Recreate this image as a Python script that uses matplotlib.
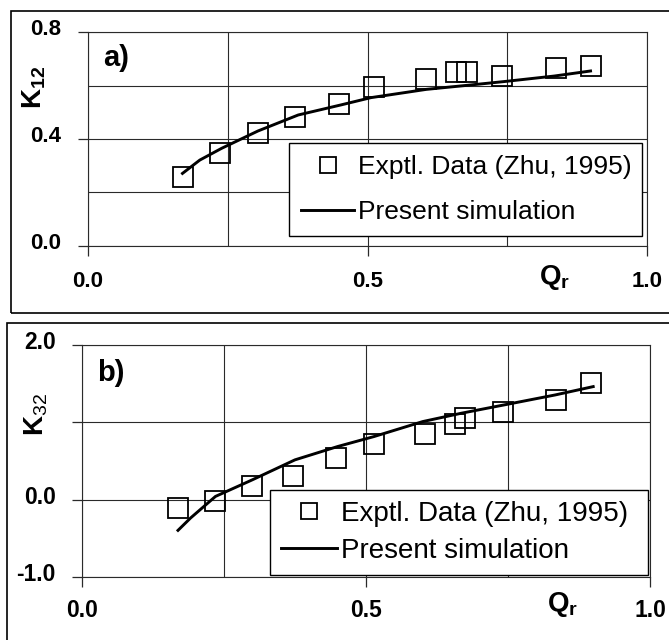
import matplotlib
matplotlib.use("Agg")
import matplotlib.pyplot as plt
import matplotlib.transforms as mtransforms
from matplotlib.patches import Rectangle
from matplotlib.ticker import MultipleLocator, FixedLocator

plt.rcParams['font.family'] = ['Liberation Sans', 'DejaVu Sans']
plt.rcParams['mathtext.fontset'] = 'custom'
plt.rcParams['mathtext.rm'] = 'Liberation Sans'
plt.rcParams['mathtext.bf'] = 'Liberation Sans:bold'
plt.rcParams['mathtext.it'] = 'Liberation Sans:italic'

# ---- data: panel a (K12) ----
exp_x_a = [0.170, 0.237, 0.304, 0.370, 0.449, 0.511, 0.604, 0.659, 0.678, 0.741, 0.837, 0.899]
exp_y_a = [0.259, 0.346, 0.421, 0.481, 0.531, 0.594, 0.625, 0.652, 0.652, 0.636, 0.665, 0.675]
sim_x_a = [0.169, 0.200, 0.239, 0.304, 0.376, 0.453, 0.506, 0.605, 0.682, 0.743, 0.834, 0.899]
sim_y_a = [0.271, 0.321, 0.365, 0.430, 0.490, 0.528, 0.555, 0.586, 0.602, 0.615, 0.636, 0.655]

# ---- data: panel b (K32) ----
exp_x_b = [0.169, 0.235, 0.300, 0.371, 0.448, 0.514, 0.604, 0.656, 0.675, 0.741, 0.835, 0.896]
exp_y_b = [-0.109, -0.014, 0.171, 0.300, 0.537, 0.717, 0.851, 0.980, 1.053, 1.139, 1.290, 1.505]
sim_x_b = [0.169, 0.191, 0.235, 0.300, 0.375, 0.450, 0.514, 0.600, 0.668, 0.743, 0.833, 0.900]
sim_y_b = [-0.397, -0.238, 0.042, 0.257, 0.515, 0.687, 0.816, 1.010, 1.118, 1.225, 1.354, 1.462]

xticks = [0.0, 0.5, 1.0]
xtick_labels = ['0.0', '0.5', '1.0']
yticks_a = [0.0, 0.4, 0.8]
ytick_labels_a = ['0.0', '0.4', '0.8']
yticks_b = [-1.0, 0.0, 1.0, 2.0]
ytick_labels_b = ['-1.0', '0.0', '', '2.0']

legend_labels = ['Exptl. Data (Zhu, 1995)', 'Present simulation']

fig = plt.figure(figsize=(6.69, 6.40), dpi=100)

# outer frames
fig.patches.append(Rectangle((11/669, 1-313/640), 1.0, 302/640, transform=fig.transFigure,
                             fill=False, edgecolor='black', linewidth=1.2, zorder=0))
fig.patches.append(Rectangle((7/669, -0.05), 1.0, 0.05 + 1-323/640, transform=fig.transFigure,
                             fill=False, edgecolor='black', linewidth=1.2, zorder=0))

ax_a = fig.add_axes([88/669, 1-245.7/640, 559/669, 213.4/640])
ax_b = fig.add_axes([82/669, 1-577/640, 568/669, 232/640])


def style(ax, xlim, ylim, yticks, yticklabels, yminor, tickfs, xpad, ypad):
    ax.set_xlim(*xlim)
    ax.set_ylim(*ylim)
    ax.xaxis.set_major_locator(FixedLocator(xticks))
    ax.set_xticklabels(xtick_labels)
    ax.xaxis.set_minor_locator(MultipleLocator(0.25))
    ax.yaxis.set_major_locator(FixedLocator(yticks))
    ax.set_yticklabels(yticklabels)
    ax.yaxis.set_minor_locator(MultipleLocator(yminor))
    ax.grid(True, which='both', color='#2a2a2a', linewidth=0.8)
    ax.set_axisbelow(True)
    for s in ax.spines.values():
        s.set_color('#2a2a2a')
        s.set_linewidth(0.8)
    ax.tick_params(which='major', direction='out', length=7, width=0.9, color='#2a2a2a')
    ax.tick_params(axis='x', which='major', pad=xpad)
    ax.tick_params(axis='y', which='major', pad=ypad)
    ax.tick_params(which='minor', length=0)
    for lab in ax.get_xticklabels() + ax.get_yticklabels():
        lab.set_fontsize(tickfs)
        lab.set_fontweight('bold')
    off = mtransforms.ScaledTranslation(0, 5/100, fig.dpi_scale_trans)
    for lab in ax.get_yticklabels():
        lab.set_transform(lab.get_transform() + off)


style(ax_a, (0, 1), (0, 0.8), yticks_a, ytick_labels_a, 0.2, 16, 11, 12)
style(ax_b, (0, 1), (-1, 2), yticks_b, ytick_labels_b, 1.0, 16.5, 9, 12)

mk = dict(marker='s', markersize=14.5, markerfacecolor='none', markeredgecolor='black',
          markeredgewidth=1.3, linestyle='none')

for ax, ex, ey, sx, sy, lbl, leg_bbox, legfs, lspace, bpad in [
        (ax_a, exp_x_a, exp_y_a, sim_x_a, sim_y_a, 'a)', (0.36, 0.045, 0.631, 0.437), 19, 0.8, 0.45),
        (ax_b, exp_x_b, exp_y_b, sim_x_b, sim_y_b, 'b)', (0.331, 0.017, 0.665, 0.349), 20, 0.4, 0.4)]:
    h1, = ax.plot(ex, ey, label=legend_labels[0], zorder=3, **mk)
    h2, = ax.plot(sx, sy, color='black', linewidth=2.1, label=legend_labels[1], zorder=4)
    ax.text(0.027, 0.88, lbl, transform=ax.transAxes, fontsize=21, fontweight='bold',
            ha='left', va='center')
    leg = ax.legend(handles=[h1, h2], loc='center left', bbox_to_anchor=leg_bbox, mode='expand',
                    fontsize=legfs, frameon=True, fancybox=False, shadow=False, framealpha=1,
                    edgecolor='black', handlelength=2.0, handletextpad=0.15, borderpad=bpad,
                    labelspacing=lspace, markerscale=0.82, borderaxespad=0)
    leg.get_frame().set_linewidth(1.0)
    leg.set_zorder(5)

ax_a.text(-0.097, 0.74, r'$\mathbf{K_{12}}$', transform=ax_a.transAxes, fontsize=20,
          rotation=90, ha='center', va='center')
ax_b.text(-0.080, 0.70, r'$\mathbf{K}_{\mathrm{32}}$', transform=ax_b.transAxes, fontsize=20,
          rotation=90, ha='center', va='center')
ax_a.text(0.835, -0.147, r'$\mathbf{Q_{r}}$', transform=ax_a.transAxes, fontsize=20,
          ha='center', va='center')
ax_b.text(0.847, -0.12, r'$\mathbf{Q_{r}}$', transform=ax_b.transAxes, fontsize=20,
          ha='center', va='center')

fig.savefig('out.png', dpi=100)
